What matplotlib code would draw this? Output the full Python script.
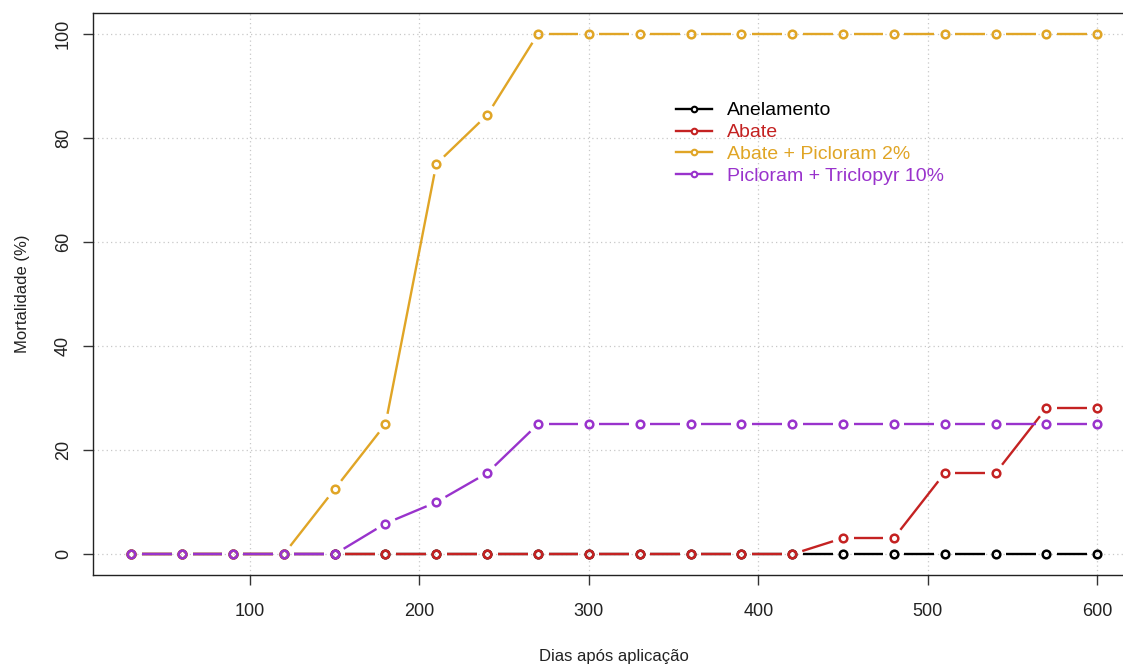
import numpy as np
import matplotlib
matplotlib.use('Agg')
import matplotlib.pyplot as plt
from matplotlib.lines import Line2D

plt.rcParams['font.family'] = ['Liberation Sans', 'DejaVu Sans']

dias = [30, 60, 90, 120, 150, 180, 210, 240, 270, 300,
        330, 360, 390, 420, 450, 480, 510, 540, 570, 600]

anelamento = [0] * 20
abate = [0, 0, 0, 0, 0, 0, 0, 0, 0, 0,
         0, 0, 0, 0, 3.1, 3.1, 15.6, 15.6, 28.1, 28.1]
abate_picloram = [0, 0, 0, 0, 12.5, 25, 75, 84.4, 100, 100,
                  100, 100, 100, 100, 100, 100, 100, 100, 100, 100]
picloram_triclopyr = [0, 0, 0, 0, 0, 5.9, 10, 15.6, 25, 25,
                      25, 25, 25, 25, 25, 25, 25, 25, 25, 25]

labels = ['Anelamento', 'Abate', 'Abate + Picloram 2%', 'Picloram + Triclopyr 10%']
colors = ['#000000', '#C42222', '#E0A526', '#9933CC']
series = [anelamento, abate, abate_picloram, picloram_triclopyr]

fig = plt.figure(figsize=(11.23, 6.64), dpi=100)
ax = fig.add_axes([0.0825, 0.134, 0.929, 0.8464])
ax.set_xlim(7.2, 622.8)
ax.set_ylim(-4, 104)


def plot_type_b(ax, x, y, color, gap=10.5):
    # R style type="b": segments broken around each point
    pts = ax.transData.transform(np.column_stack([x, y]))
    inv = ax.transData.inverted()
    for p0, p1 in zip(pts[:-1], pts[1:]):
        d = p1 - p0
        L = np.hypot(*d)
        if L <= 2 * gap:
            continue
        u = d / L
        a, b = inv.transform([p0 + u * gap, p1 - u * gap])
        ax.plot([a[0], b[0]], [a[1], b[1]], color=color, lw=1.7,
                solid_capstyle='butt', zorder=3)
    ax.plot(x, y, 'o', ms=5.5, mfc='none', mec=color, mew=1.8, zorder=4)


for s, c in zip(series, colors):
    plot_type_b(ax, dias, s, c)

ax.set_xticks([100, 200, 300, 400, 500, 600])
ax.set_yticks([0, 20, 40, 60, 80, 100])
ax.grid(True, color='#c8c8c8', linestyle=(0, (1, 2.5)), lw=0.9)
ax.set_axisbelow(True)
ax.tick_params(direction='out', length=7, width=1, colors='#333333',
               labelsize=13, labelcolor='#222222')
ax.tick_params(axis='x', pad=13)
ax.tick_params(axis='y', pad=8)
for lab in ax.get_yticklabels():
    lab.set_rotation(90)
    lab.set_va('center')
for sp in ax.spines.values():
    sp.set_color('#222222')
    sp.set_linewidth(1)

ax.set_xlabel('Dias após aplicação', fontsize=12, color='#222222', labelpad=21)
ax.set_ylabel('Mortalidade (%)', fontsize=12, color='#222222', labelpad=18)

handles = [Line2D([], [], color=c, lw=1.7, marker='o', ms=4, mfc='white', mec=c, mew=1.5)
           for c in colors]
leg = ax.legend(handles, labels, loc='upper left', bbox_to_anchor=(0.5594, 0.842),
                frameon=False, fontsize=14, handlelength=1.85, handletextpad=0.75,
                labelspacing=0.22, borderpad=0, borderaxespad=0)
for t, c in zip(leg.get_texts(), colors):
    t.set_color(c)

fig.savefig('out.png', dpi=100)
